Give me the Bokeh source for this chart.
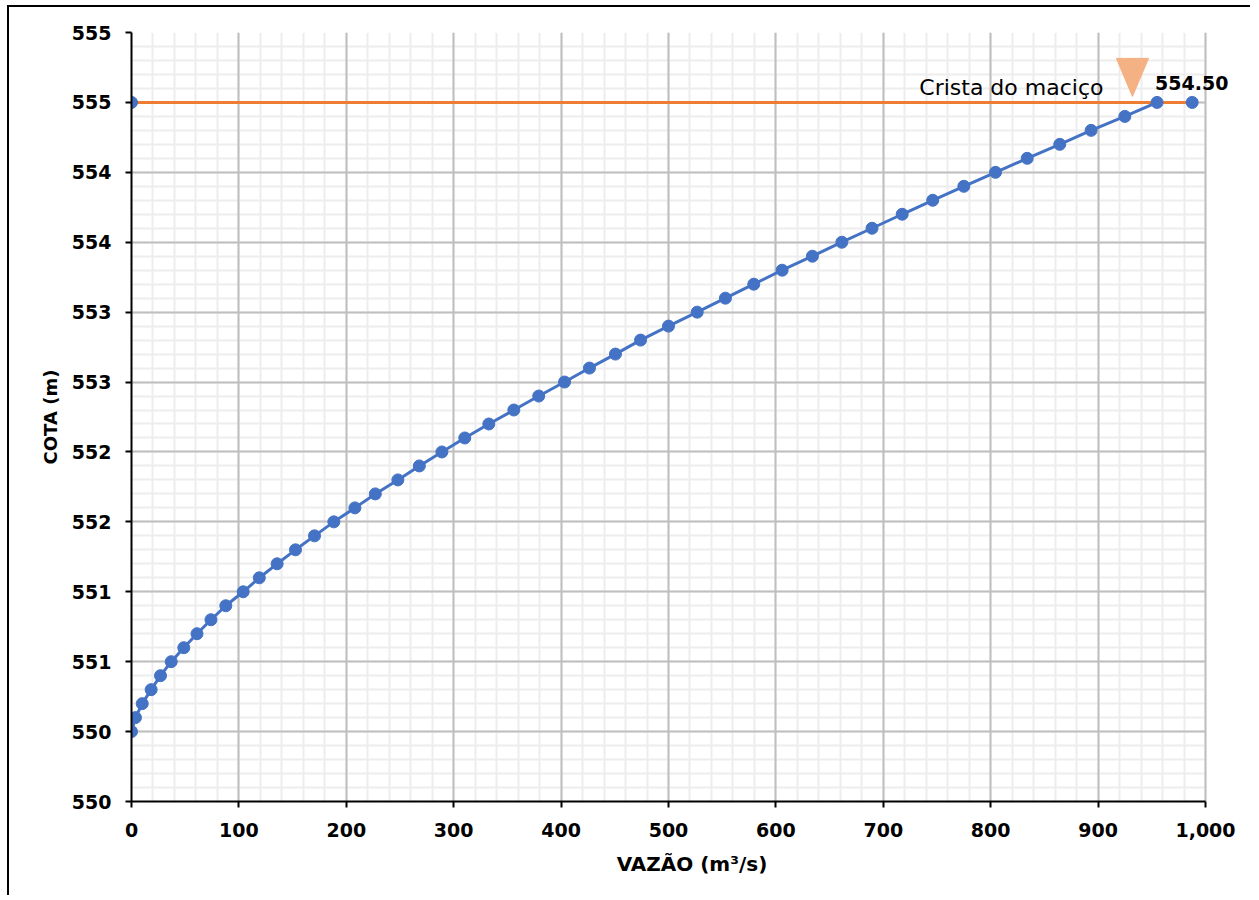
from bokeh.plotting import figure
from bokeh.models import FixedTicker, Range1d, ColumnDataSource, Grid
from bokeh.embed import file_html
from bokeh.resources import INLINE
from bokeh.core.properties import value
import numpy as np

# ---- data ----
VAZAO = [0, 3.7, 10, 18.3, 27, 37, 48.7, 61, 74, 87.8,
         104, 119, 135.6, 152.7, 170.4, 188.4, 208, 227, 248, 268,
         289, 310.3, 332.7, 356, 379.2, 403.2, 426.4, 450.6, 474, 500,
         526.7, 553, 579.4, 605.8, 634, 661.4, 689.5, 717.6, 746, 775,
         804.5, 834, 864.3, 893.5, 924.9, 954.9]
COTA = [550.0, 550.1, 550.2, 550.3, 550.4, 550.5, 550.6, 550.7, 550.8, 550.9,
        551.0, 551.1, 551.2, 551.3, 551.4, 551.5, 551.6, 551.7, 551.8, 551.9,
        552.0, 552.1, 552.2, 552.3, 552.4, 552.5, 552.6, 552.7, 552.8, 552.9,
        553.0, 553.1, 553.2, 553.3, 553.4, 553.5, 553.6, 553.7, 553.8, 553.9,
        554.0, 554.1, 554.2, 554.3, 554.4, 554.5]

CREST_X = [0, 987.6]
CREST_Y = [554.5, 554.5]
CREST_LABEL = "Crista do maciço"
CREST_VALUE_LABEL = "554.50"

X_TICKS = [0, 100, 200, 300, 400, 500, 600, 700, 800, 900, 1000]
X_TICK_LABELS = ["0", "100", "200", "300", "400", "500", "600", "700", "800", "900", "1,000"]
Y_TICKS = [549.5, 550.0, 550.5, 551.0, 551.5, 552.0, 552.5, 553.0, 553.5, 554.0, 554.5, 555.0]
Y_TICK_LABELS = ["550", "550", "551", "551", "552", "552", "553", "553", "554", "554", "555", "555"]

X_TITLE = "VAZÃO (m³/s)"
Y_TITLE = "COTA (m)"

# triangle marker (annotation) geometry
TRI_X = 932
TRI_HALF_W = 15
TRI_TOP = 554.815
TRI_TIP = 554.543

BLUE = "#4472C4"
ORANGE = "#ED7D31"
TRI_COLOR = "#F4B183"
FONT = "DejaVu Sans"

W, H = 1243, 890
BL, BT, BB = 122, 25, 96
AXIS_PX, EXTRA_PX = 1074, 47          # axis length and free room right of it (for the value label)
X0, X1, Y0, Y1 = 0, 1000, 549.5, 555.0
X_VIEW_END = X1 + (X1 - X0) * EXTRA_PX / AXIS_PX

p = figure(width=W, height=H, output_backend="svg", toolbar_location=None,
           x_range=Range1d(X0, X_VIEW_END), y_range=Range1d(Y0, Y1),
           min_border_left=BL, min_border_right=0, min_border_top=BT, min_border_bottom=BB)
p.styles = {"border-left": "2px solid black", "border-top": "2px solid black",
            "margin-left": "7px", "margin-top": "5px"}
p.outline_line_color = None
p.background_fill_color = "white"
p.border_fill_color = "white"

# tickers
x_minor = [float(v) for v in np.arange(0, 1000.1, 20)]
y_minor = [round(float(v), 1) for v in np.arange(549.5, 555.05, 0.1)]
xt = FixedTicker(ticks=X_TICKS, minor_ticks=x_minor)
yt = FixedTicker(ticks=Y_TICKS, minor_ticks=y_minor)
p.xaxis.ticker = xt
p.yaxis.ticker = yt
p.xaxis.bounds = (X0, X1)
p.xaxis.major_label_overrides = {t: l for t, l in zip(X_TICKS, X_TICK_LABELS)}
p.yaxis.major_label_overrides = {t: l for t, l in zip(Y_TICKS, Y_TICK_LABELS)}

for ax in (p.xaxis[0], p.yaxis[0]):
    ax.axis_line_color = "black"
    ax.axis_line_width = 2
    ax.major_tick_line_color = "black"
    ax.major_tick_line_width = 2
    ax.major_tick_out = 6
    ax.major_tick_in = 0
    ax.minor_tick_out = 0
    ax.minor_tick_in = 0
    ax.major_label_text_font = FONT
    ax.major_label_text_font_style = "bold"
    ax.major_label_text_font_size = "19px"
    ax.major_label_text_color = "black"
    ax.axis_label_text_font = FONT
    ax.axis_label_text_font_style = "bold"
    ax.axis_label_text_color = "black"

p.xaxis.axis_label = X_TITLE
p.yaxis.axis_label = Y_TITLE
p.xaxis.axis_label_text_font_size = "20px"
p.yaxis.axis_label_text_font_size = "18px"
p.xaxis.major_label_standoff = 15
p.yaxis.major_label_standoff = 14
p.xaxis.axis_label_standoff = 12
p.yaxis.axis_label_standoff = 8

# minor grid first (default grids), major grid drawn on top; all limited to the axis extent
p.xgrid[0].bounds = (X0, X1)
p.ygrid[0].cross_bounds = (X0, X1)
for g in (p.xgrid[0], p.ygrid[0]):
    g.grid_line_color = None
    g.minor_grid_line_color = "#EDEDED"
    g.minor_grid_line_width = 2
p.add_layout(Grid(dimension=0, ticker=xt, bounds=(X0, X1),
                  grid_line_color="#BFBFBF", grid_line_width=2))
p.add_layout(Grid(dimension=1, ticker=yt, cross_bounds=(X0, X1),
                  grid_line_color="#BFBFBF", grid_line_width=2))

# crest line (orange) with end markers
p.line(CREST_X, CREST_Y, line_color=ORANGE, line_width=3)
p.scatter(CREST_X, CREST_Y, marker="circle", size=12, fill_color=BLUE, line_color=BLUE)

# rating curve
src = ColumnDataSource(dict(x=VAZAO, y=COTA))
p.line("x", "y", source=src, line_color=BLUE, line_width=3)
p.scatter("x", "y", source=src, marker="circle", size=12, fill_color=BLUE, line_color=BLUE)

# triangle marker
p.patch([TRI_X - TRI_HALF_W, TRI_X + TRI_HALF_W, TRI_X], [TRI_TOP, TRI_TOP, TRI_TIP],
        fill_color=TRI_COLOR, line_color=TRI_COLOR)

# labels
p.text(x=[TRI_X], y=[CREST_Y[0]], text=[CREST_LABEL], x_offset=-29, y_offset=-15,
       text_align="right", text_baseline="alphabetic", text_font=value(FONT),
       text_font_size="22px", text_color="black")
p.text(x=[VAZAO[-1]], y=[COTA[-1]], text=[CREST_VALUE_LABEL], x_offset=-2, y_offset=-19,
       text_align="left", text_baseline="alphabetic", text_font=value(FONT),
       text_font_style="bold", text_font_size="19px", text_color="black")

open("out.html", "w").write(file_html(p, INLINE))
